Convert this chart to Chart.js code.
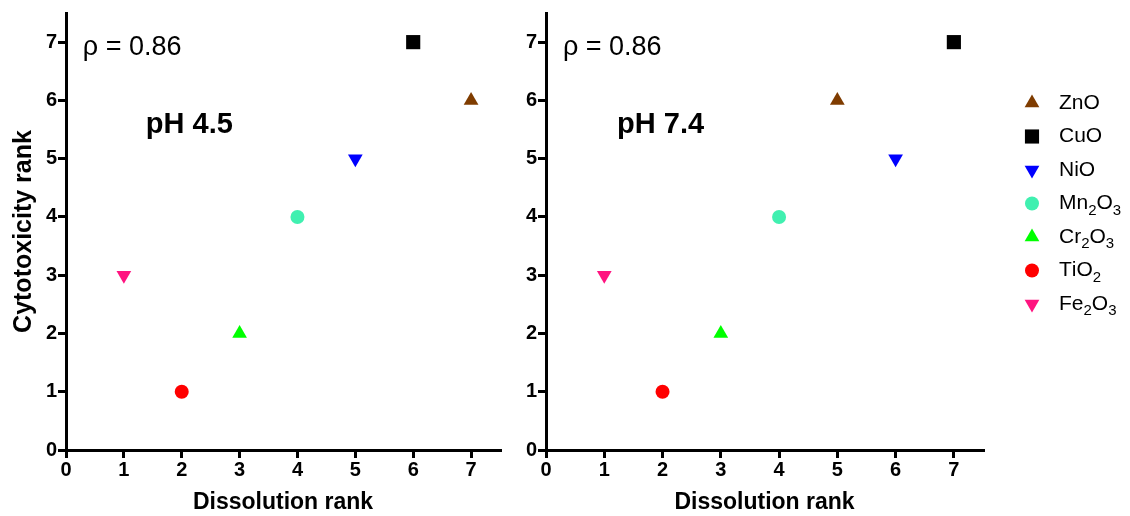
<!DOCTYPE html>
<html>
<head>
<meta charset="utf-8">
<script src="https://cdn.jsdelivr.net/npm/chart.js@4/dist/chart.umd.min.js"></script>
<style>
  html, body { margin: 0; padding: 0; background: #fff; }
  #wrap { position: relative; width: 1130px; height: 516px; }
  canvas { position: absolute; top: 0; }
</style>
</head>
<body>
<div id="wrap">
  <canvas id="left" width="510" height="516" style="left:0"></canvas>
  <canvas id="right" width="625" height="516" style="left:505px"></canvas>
</div>
<script>
"use strict";

// compounds, in legend order
var compounds = ['ZnO', 'CuO', 'NiO', 'Mn2O3', 'Cr2O3', 'TiO2', 'Fe2O3'];
var colors = ['#7f3c00', '#000000', '#0000ff', '#40f0b0', '#00ff00', '#ff0000', '#ff1480'];
var markers = ['triangleUp', 'square', 'triangleDown', 'circle', 'triangleUp', 'circle', 'triangleDown'];

// pH 4.5 panel
var dissolutionPH45 = [7, 6, 5, 4, 3, 2, 1];
var cytotoxPH45 = [6, 7, 5, 4, 2, 1, 3];
// pH 7.4 panel
var dissolutionPH74 = [5, 7, 6, 4, 3, 2, 1];
var cytotoxPH74 = [6, 7, 5, 4, 2, 1, 3];

var axisMax = 7.5;
var tickStep = 1;
var xTitle = 'Dissolution rank';
var yTitle = 'Cytotoxicity rank';

// in-plot notes, placed in data units
var notesPH45 = [
  { text: '\u03c1 = 0.86', x: 0.29, y: 6.9, bold: false },
  { text: 'pH 4.5', x: 1.38, y: 5.57, bold: true }
];
var notesPH74 = [
  { text: '\u03c1 = 0.86', x: 0.29, y: 6.9, bold: false },
  { text: 'pH 7.4', x: 1.22, y: 5.57, bold: true }
];

var FONT = "'Liberation Sans', Arial, sans-serif";

function markerStyle(name) {
  if (name === 'square') return { pointStyle: 'rect', rotation: 0, radius: 10 };
  if (name === 'circle') return { pointStyle: 'circle', rotation: 0, radius: 7 };
  if (name === 'triangleDown') return { pointStyle: 'triangle', rotation: 180, radius: 8.5 };
  return { pointStyle: 'triangle', rotation: 0, radius: 8.5 };
}

function buildDatasets(xs, ys) {
  return compounds.map(function(name, i) {
    var m = markerStyle(markers[i]);
    return {
      label: name,
      data: [{ x: xs[i], y: ys[i] }],
      backgroundColor: colors[i],
      borderColor: colors[i],
      borderWidth: 0,
      pointStyle: m.pointStyle,
      rotation: m.rotation,
      pointRadius: m.radius,
      pointHoverRadius: m.radius
    };
  });
}

function axis(opts) {
  return {
    type: 'linear',
    min: 0,
    max: axisMax,
    ticks: {
      stepSize: tickStep,
      includeBounds: false,
      color: '#000',
      padding: opts.tickPad,
      font: { family: FONT, size: 20, weight: 'bold' }
    },
    grid: {
      drawOnChartArea: false,
      drawTicks: true,
      tickLength: 8,
      color: '#000',
      lineWidth: 3
    },
    border: { display: true, color: '#000', width: 3 },
    title: {
      display: !!opts.title,
      text: opts.title || '',
      color: '#000',
      padding: opts.titlePad || 0,
      font: { family: FONT, size: opts.titleSize, weight: 'bold' }
    },
    afterFit: opts.afterFit
  };
}

var notesPlugin = {
  id: 'notes',
  afterDatasetsDraw: function(chart) {
    var notes = chart.options.plugins.notes.items || [];
    var ctx = chart.ctx;
    ctx.save();
    ctx.fillStyle = '#000';
    ctx.textBaseline = 'middle';
    ctx.textAlign = 'left';
    notes.forEach(function(n) {
      ctx.font = (n.bold ? 'bold 29px ' : '27px ') + FONT;
      ctx.fillText(n.text, chart.scales.x.getPixelForValue(n.x), chart.scales.y.getPixelForValue(n.y));
    });
    ctx.restore();
  }
};

// side legend with subscript digits
var sideLegend = {
  id: 'sideLegend',
  afterDraw: function(chart) {
    var cfg = chart.options.plugins.sideLegend;
    if (!cfg || !cfg.display) return;
    var ctx = chart.ctx;
    ctx.save();
    compounds.forEach(function(name, i) {
      var y = cfg.top + i * cfg.step;
      var m = markerStyle(markers[i]);
      ctx.fillStyle = colors[i];
      ctx.strokeStyle = colors[i];
      Chart.helpers.drawPoint(ctx, { pointStyle: m.pointStyle, rotation: m.rotation, radius: m.radius, borderWidth: 0 }, cfg.markerX, y);
      ctx.fillStyle = '#000';
      ctx.textBaseline = 'middle';
      ctx.textAlign = 'left';
      var x = cfg.textX;
      name.split('').forEach(function(ch) {
        var sub = /[0-9]/.test(ch);
        ctx.font = (sub ? '15px ' : '21px ') + FONT;
        ctx.fillText(ch, x, sub ? y + 7 : y);
        x += ctx.measureText(ch).width;
      });
    });
    ctx.restore();
  }
};

function makeChart(canvasId, xs, ys, notes, opts) {
  return new Chart(document.getElementById(canvasId), {
    type: 'scatter',
    data: { datasets: buildDatasets(xs, ys) },
    options: {
      responsive: false,
      animation: false,
      devicePixelRatio: 1,
      layout: { padding: opts.padding },
      plugins: {
        legend: { display: false },
        tooltip: { enabled: false },
        notes: { items: notes },
        sideLegend: opts.legend || { display: false }
      },
      scales: {
        x: axis({
          title: xTitle,
          titleSize: 23,
          tickPad: 0,
          afterFit: function(s) { s.height = 66; }
        }),
        y: axis({
          title: opts.yTitle,
          titleSize: 25,
          titlePad: 9,
          tickPad: 1,
          afterFit: function(s) { s.width = opts.yWidth; }
        })
      }
    },
    plugins: [notesPlugin, sideLegend]
  });
}

makeChart('left', dissolutionPH45, cytotoxPH45, notesPH45, {
  padding: { top: 13, right: 6, left: 0, bottom: 0 },
  yWidth: 66,
  yTitle: yTitle
});

makeChart('right', dissolutionPH74, cytotoxPH74, notesPH74, {
  padding: { top: 13, right: 147, left: 0, bottom: 0 },
  yWidth: 41,
  yTitle: null,
  legend: { display: true, markerX: 527, textX: 554, top: 103, step: 33.5 }
});
</script>
</body>
</html>
